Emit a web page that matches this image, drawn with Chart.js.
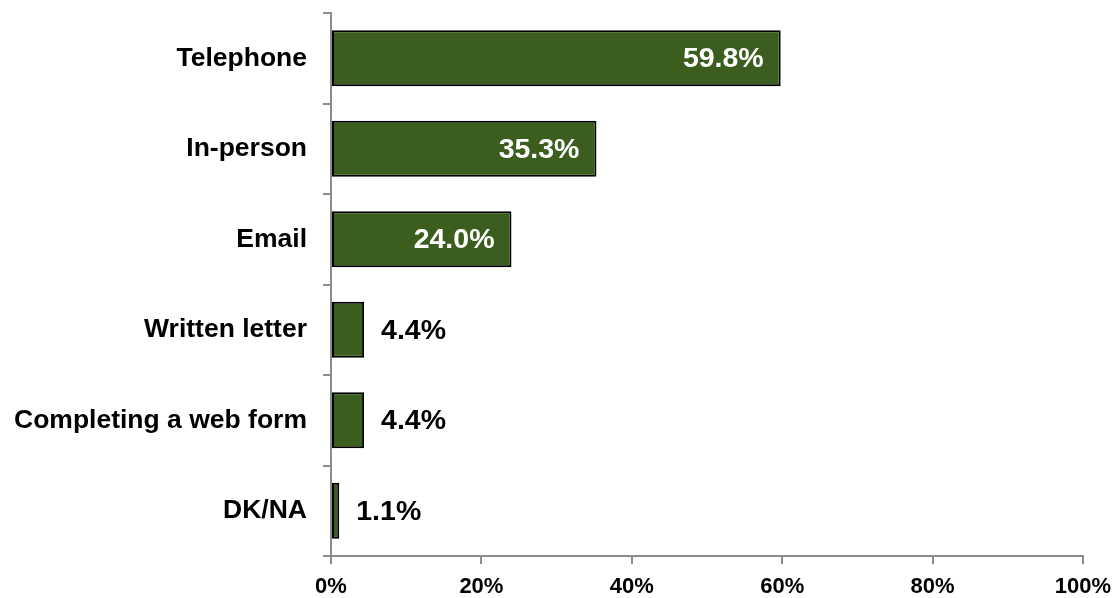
<!DOCTYPE html>
<html>
<head>
<meta charset="utf-8">
<script src="https://cdn.jsdelivr.net/npm/chart.js@4"></script>
<style>
  html, body { margin: 0; padding: 0; background: #fff; }
  #wrap { width: 1117px; height: 598px; }
</style>
</head>
<body>
<div id="wrap"><canvas id="contactChart" width="1117" height="598"></canvas></div>
<script>
const categories = ['Telephone', 'In-person', 'Email', 'Written letter', 'Completing a web form', 'DK/NA'];
const shares = [59.8, 35.3, 24.0, 4.4, 4.4, 1.1];
const xTicks = [0, 20, 40, 60, 80, 100];

const FONT = '"Liberation Sans", Arial, sans-serif';
const AXIS_GREY = '#8c8c8c';

// percentage labels: white inside the long bars, black past the end of short ones
const barLabels = {
    id: 'barLabels',
    afterDatasetsDraw(chart) {
        const ctx = chart.ctx;
        const meta = chart.getDatasetMeta(0);
        ctx.save();
        ctx.font = 'bold 28.5px ' + FONT;
        ctx.textBaseline = 'middle';
        meta.data.forEach((bar, i) => {
            const v = shares[i];
            const text = v.toFixed(1) + '%';
            if (v >= 10) {
                ctx.fillStyle = '#ffffff';
                ctx.textAlign = 'right';
                ctx.fillText(text, bar.x - 17, bar.y + 1);
            } else {
                ctx.fillStyle = '#000000';
                ctx.textAlign = 'left';
                ctx.fillText(text, bar.x + 17, bar.y + 1);
            }
        });
        ctx.restore();
    }
};

new Chart(document.getElementById('contactChart'), {
    type: 'bar',
    data: {
        labels: categories,
        datasets: [{
            data: shares,
            backgroundColor: '#3b5e1e',
            borderColor: '#000000',
            borderWidth: 2,
            borderSkipped: false,
            categoryPercentage: 1,
            barPercentage: 0.62
        }]
    },
    options: {
        indexAxis: 'y',
        responsive: false,
        animation: false,
        layout: { padding: { top: 13, right: 34, bottom: 0, left: 0 } },
        plugins: {
            legend: { display: false },
            tooltip: { enabled: false }
        },
        scales: {
            x: {
                min: 0,
                max: 100,
                afterBuildTicks(axis) {
                    axis.ticks = xTicks.map(v => ({ value: v }));
                },
                afterFit(axis) {
                    axis.height = 42;
                    axis.paddingLeft = 0;
                    axis.paddingRight = 0;
                },
                border: { color: AXIS_GREY, width: 2 },
                grid: { drawOnChartArea: false, tickLength: 8, color: AXIS_GREY, lineWidth: 2 },
                ticks: {
                    color: '#000',
                    padding: 10,
                    maxRotation: 0,
                    font: { family: FONT, size: 22, weight: 'bold' },
                    callback: v => v + '%'
                }
            },
            y: {
                afterFit(axis) {
                    axis.width = 331;
                    axis.paddingTop = 0;
                    axis.paddingBottom = 0;
                },
                border: { color: AXIS_GREY, width: 2 },
                grid: { drawOnChartArea: false, tickLength: 8, color: AXIS_GREY, lineWidth: 2, offset: true },
                ticks: {
                    color: '#000',
                    padding: 16,
                    font: { family: FONT, size: 26.5, weight: 'bold' }
                }
            }
        }
    },
    plugins: [barLabels]
});
</script>
</body>
</html>
